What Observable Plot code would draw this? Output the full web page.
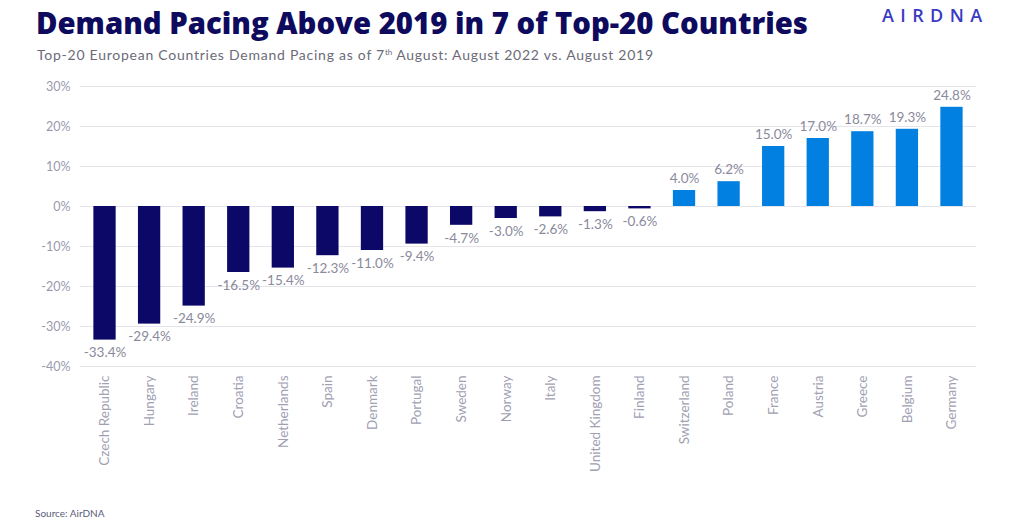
<!DOCTYPE html>
<html>
<head>
<meta charset="utf-8">
<script src="https://cdn.jsdelivr.net/npm/d3@7"></script>
<script src="https://cdn.jsdelivr.net/npm/@observablehq/plot@0.6"></script>
<style>
  html, body { margin: 0; padding: 0; background: #fff; }
  #wrap { position: relative; width: 1011px; height: 532px; overflow: hidden; font-family: Lato, "Open Sans", sans-serif; }
  #header { position: relative; height: 70px; }
  #title { position: absolute; left: 36px; top: 4px; font-family: "Open Sans", sans-serif; font-weight: 800; font-size: 29.3px; line-height: 38px; color: #0e0b5e; letter-spacing: 0px; white-space: nowrap; }
  #subtitle { position: absolute; left: 37px; top: 46px; font-size: 14px; color: #6b6b78; white-space: nowrap; letter-spacing: 0.75px; }
  #subtitle sup { font-size: 8px; vertical-align: 5px; letter-spacing: 0; }
  #logo { position: absolute; left: 882px; top: 3px; font-family: "Open Sans", sans-serif; font-size: 18px; font-weight: 600; letter-spacing: 6.4px; color: #3a3ac4; }
  #chart { position: absolute; left: 0; top: 70px; }
  #source { position: absolute; left: 35px; top: 507px; font-size: 10px; color: #5a5c78; }
</style>
</head>
<body>
<div id="wrap">
  <div id="header">
    <div id="title">Demand Pacing Above 2019 in 7 of Top-20 Countries</div>
    <div id="subtitle">Top-20 European Countries Demand Pacing as of 7<sup>th</sup> August: August 2022 vs. August 2019</div>
    <div id="logo">AIRDNA</div>
  </div>
  <div id="chart"></div>
  <div id="source">Source: AirDNA</div>
</div>
<script>
const countries = ["Czech Republic","Hungary","Ireland","Croatia","Netherlands","Spain","Denmark","Portugal","Sweden","Norway","Italy","United Kingdom","Finland","Switzerland","Poland","France","Austria","Greece","Belgium","Germany"];
const values = [-33.4,-29.4,-24.9,-16.5,-15.4,-12.3,-11.0,-9.4,-4.7,-3.0,-2.6,-1.3,-0.6,4.0,6.2,15.0,17.0,18.7,19.3,24.8];
const yTicks = [-40,-30,-20,-10,0,10,20,30];

const data = countries.map((c, i) => ({country: c, value: values[i]}));
const fmt = v => v.toFixed(1) + "%";

const chart = Plot.plot({
  width: 1011,
  height: 430,
  marginLeft: 80,
  marginRight: 35,
  marginTop: 16,
  marginBottom: 134,
  style: {fontFamily: "Lato, 'Open Sans', sans-serif", background: "transparent"},
  x: {domain: countries, paddingInner: 0.5, paddingOuter: 0.3, round: false, label: null},
  y: {domain: [-40, 30], ticks: yTicks, label: null},
  marks: [
    Plot.gridY(yTicks, {stroke: "#e4e4ea", strokeOpacity: 1}),
    Plot.barY(data, {x: "country", y: "value", fill: d => d.value < 0 ? "#0b0868" : "#0280e2"}),
    Plot.text(data.filter(d => d.value < 0), {x: "country", y: "value", text: d => fmt(d.value), dy: 13, fill: "#8a8a9c", fontSize: 13.5}),
    Plot.text(data.filter(d => d.value >= 0), {x: "country", y: "value", text: d => fmt(d.value), dy: -12, fill: "#8a8a9c", fontSize: 13.5}),
    Plot.axisY({ticks: yTicks, tickFormat: d => d + "%", tickSize: 0, tickPadding: 10, fill: "#9a9aac", fontSize: 12.5, label: null}),
    Plot.axisX({tickSize: 0, tickPadding: 9, tickRotate: -90, fill: "#a0a0b2", fontSize: 13.5, label: null, style: {letterSpacing: "0.7px"}})
  ]
});
document.getElementById("chart").appendChild(chart);
</script>
</body>
</html>
